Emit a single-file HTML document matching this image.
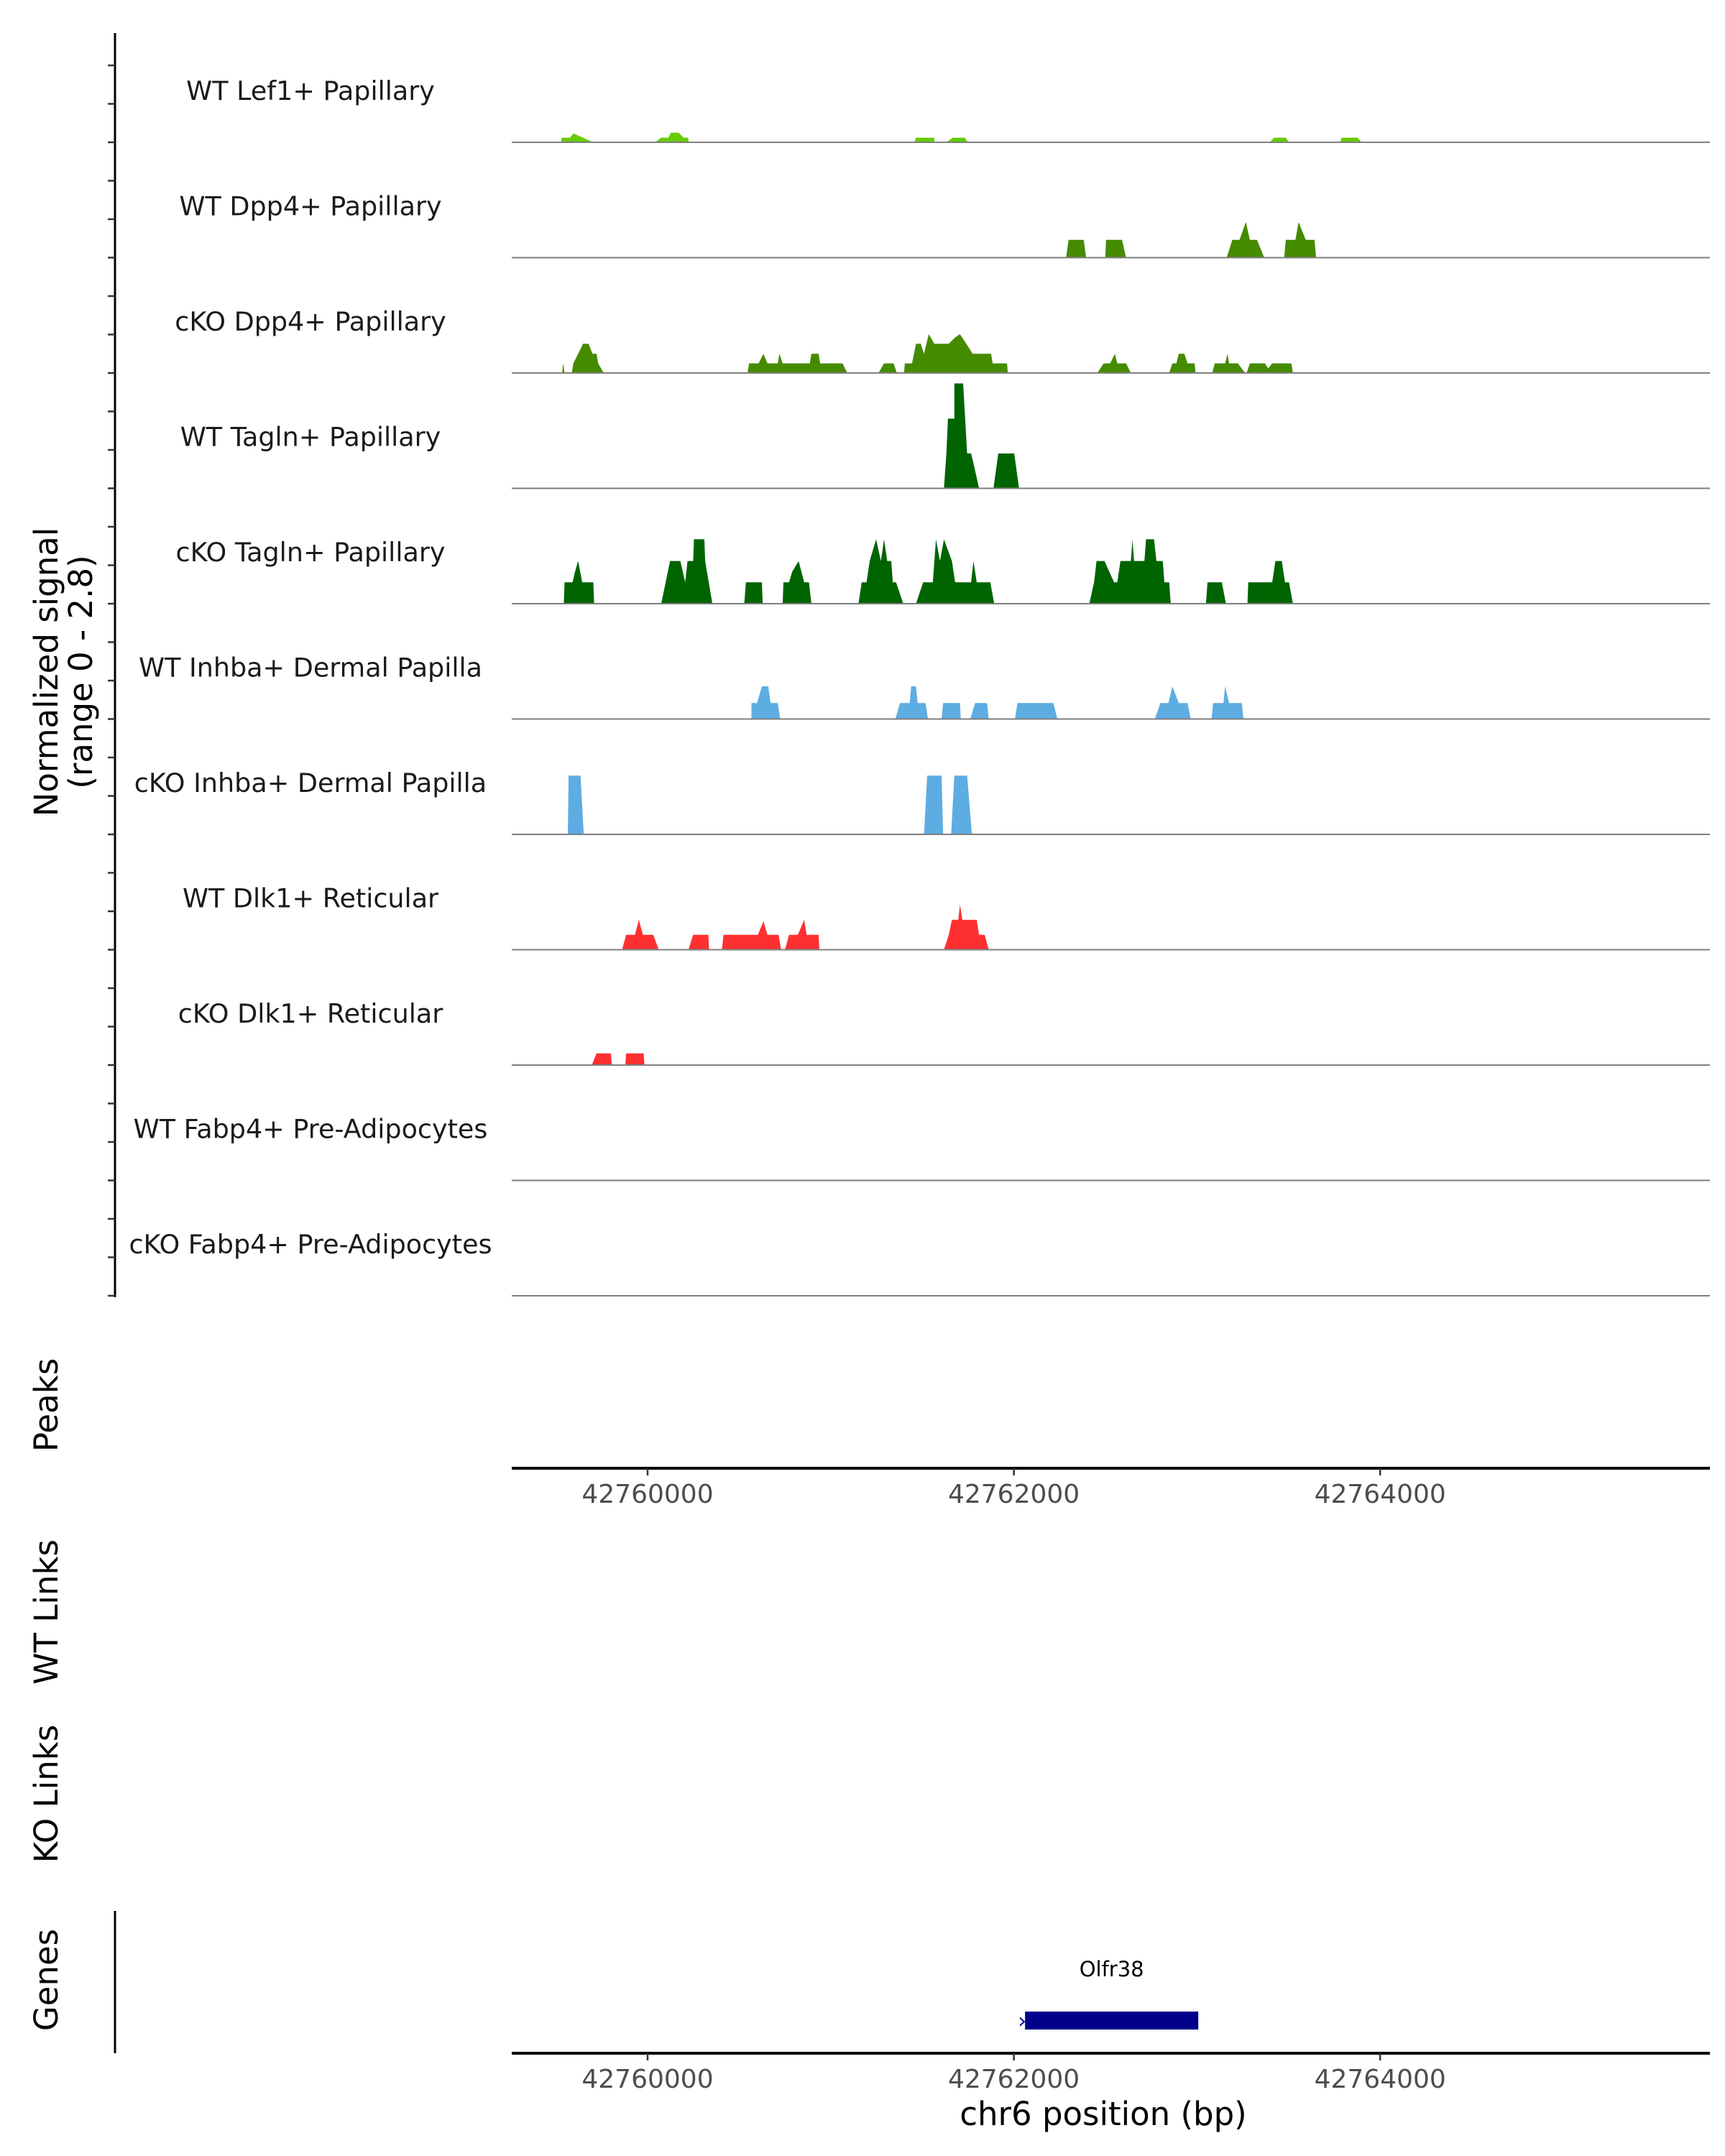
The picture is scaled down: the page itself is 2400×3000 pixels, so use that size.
<!DOCTYPE html>
<html><head><meta charset="utf-8"><style>
html,body{margin:0;padding:0;background:#fff;}
svg{display:block;font-family:"DejaVu Sans","Liberation Sans",sans-serif;}
</style></head><body>
<svg id="chart" width="2400" height="3000" viewBox="0 0 2400 3000" xmlns="http://www.w3.org/2000/svg">
<rect width="2400" height="3000" fill="#fff"/>
<g id="tracks"></g>
<g id="yaxis"></g>
<text transform="translate(80,935) rotate(-90)" text-anchor="middle" font-size="45" fill="#000">Normalized signal</text>
<text transform="translate(128,935) rotate(-90)" text-anchor="middle" font-size="45" fill="#000">(range 0 - 2.8)</text>
<text transform="translate(80,1955) rotate(-90)" text-anchor="middle" font-size="45">Peaks</text>
<text transform="translate(80,2243) rotate(-90)" text-anchor="middle" font-size="45">WT Links</text>
<text transform="translate(80,2496) rotate(-90)" text-anchor="middle" font-size="45">KO Links</text>
<text transform="translate(80,2755) rotate(-90)" text-anchor="middle" font-size="45">Genes</text>
<line x1="160" y1="2659" x2="160" y2="2857" stroke="#000" stroke-width="3"/>
<g id="xaxes"></g>
<g id="genes"></g>
<text x="1535" y="2957" text-anchor="middle" font-size="45">chr6 position (bp)</text>
</svg>
<script>
const trackNames = ["WT Lef1+ Papillary","WT Dpp4+ Papillary","cKO Dpp4+ Papillary","WT Tagln+ Papillary","cKO Tagln+ Papillary","WT Inhba+ Dermal Papilla","cKO Inhba+ Dermal Papilla","WT Dlk1+ Reticular","cKO Dlk1+ Reticular","WT Fabp4+ Pre-Adipocytes","cKO Fabp4+ Pre-Adipocytes"];
const trackColors = ["#66cc00","#458b00","#458b00","#006400","#006400","#5dade2","#5dade2","#ff3030","#ff3030","#8b4513","#8b4513"];
const xTicks = [42760000,42762000,42764000];
const geneName = "Olfr38";
const geneStart = 42762061;
const geneEnd = 42763007;
// peaks: points given as [zoomUnits, signal]; position bp = 42759211 + 4.361*u
const t0 = [[[73,0],[73,.13],[84,.13],[88,.25],[113,0]],[[190,0],[198,.13],[207,.13],[210,.27],[220,.27],[226,.13],[232,.13],[232,0]],[[515,0],[517,.13],[540,.13],[540,0]],[[555,0],[563,.13],[578,.13],[582,0]],[[960,0],[965,.13],[980,.13],[984,0]],[[1048,0],[1050,.13],[1070,.13],[1075,0]]];
const t1 = [[[705,0],[708,.5],[727,.5],[730,0]],[[754,0],[755,.5],[775,.5],[780,0]],[[906,0],[913,.5],[922,.5],[930,1.0],[935,.5],[944,.5],[953,0]],[[978,0],[980,.5],[992,.5],[996,1.0],[1005,.5],[1016,.5],[1018,0]]];
const t2 = [[[74,0],[75,.27],[77,0]],[[86,0],[88,.27],[94,.54],[100,.82],[107,.82],[112,.54],[117,.54],[119,.27],[126,0]],[[306,0],[308,.27],[320,.27],[326,.54],[331,.27],[344,.27],[346,.54],[350,.27],[384,.27],[386,.54],[395,.54],[397,.27],[425,.27],[431,0]],[[470,0],[477,.27],[489,.27],[493,0]],[[502,0],[503,.27],[512,.27],[517,.82],[523,.82],[527,.54],[533,1.09],[540,.82],[558,.82],[566,1.0],[572,1.09],[580,.82],[588,.54],[593,.54],[611,.54],[613,.27],[631,.27],[632,0]],[[744,0],[752,.27],[760,.27],[766,.54],[769,.27],[780,.27],[786,0]],[[834,0],[838,.27],[843,.27],[846,.54],[853,.54],[857,.27],[866,.27],[867,0]],[[888,0],[891,.27],[904,.27],[907,.54],[909,.27],[920,.27],[929,0]],[[931,0],[935,.27],[954,.27],[958,.13],[963,.27],[987,.27],[989,0]]];
const t3 = [[[552,0],[555,.98],[557,1.96],[565,1.96],[565,2.95],[576,2.95],[581,.98],[586,.98],[588,.8],[596,0]],[[614,0],[620,.98],[640,.98],[646,0]]];
const t4 = [[[76,0],[77,.6],[87,.6],[90,.9],[94,1.2],[99,.6],[113,.6],[114,0]],[[198,0],[209,1.2],[222,1.2],[228,.6],[231,1.2],[238,1.2],[239,1.81],[252,1.81],[253,1.2],[262,0]],[[302,0],[304,.6],[324,.6],[325,0]],[[350,0],[351,.6],[358,.6],[362,.9],[370,1.2],[377,.6],[383,.6],[386,0]],[[445,0],[449,.6],[455,.6],[459,1.2],[467,1.81],[473,1.2],[477,1.81],[481,1.2],[486,1.2],[488,.6],[492,.6],[501,0]],[[517,0],[526,.6],[538,.6],[540,1.2],[542,1.81],[547,1.2],[552,1.81],[562,1.2],[566,.6],[586,.6],[589,1.2],[593,.6],[610,.6],[615,0]],[[734,0],[740,.6],[743,1.2],[753,1.2],[765,.6],[769,.6],[773,1.2],[786,1.2],[788,1.81],[790,1.2],[803,1.2],[805,1.81],[815,1.81],[818,1.2],[826,1.2],[828,.6],[834,.6],[836,0]],[[880,0],[882,.6],[900,.6],[905,0]],[[932,0],[933,.6],[963,.6],[967,1.2],[975,1.2],[979,.6],[984,.6],[989,0]]];
const t5 = [[[311,0],[311,.45],[318,.45],[324,.92],[332,.92],[335,.45],[344,.45],[347,0]],[[491,0],[497,.45],[509,.45],[511,.92],[517,.92],[519,.45],[529,.45],[532,0]],[[549,0],[551,.45],[572,.45],[573,0]],[[585,0],[591,.45],[606,.45],[608,0]],[[641,0],[644,.45],[689,.45],[694,0]],[[816,0],[823,.45],[833,.45],[838,.92],[846,.45],[857,.45],[861,0]],[[887,0],[889,.45],[902,.45],[904,.92],[909,.45],[925,.45],[927,0]]];
const t6 = [[[81,0],[82,1.65],[97,1.65],[101,0]],[[527,0],[531,1.65],[549,1.65],[551,0]],[[561,0],[565,1.65],[581,1.65],[587,0]]];
const t7 = [[[149,0],[154,.42],[165,.42],[170,.84],[175,.42],[188,.42],[195,0]],[[232,0],[238,.42],[257,.42],[258,0]],[[274,0],[276,.42],[319,.42],[326,.8],[331,.42],[345,.42],[348,0]],[[353,0],[358,.42],[369,.42],[377,.84],[380,.42],[395,.42],[396,0]],[[552,0],[558,.42],[562,.84],[570,.84],[572,1.27],[575,.84],[593,.84],[596,.42],[603,.42],[608,0]]];
const t8 = [[[111,0],[117,.33],[135,.33],[136,0]],[[153,0],[154,.33],[176,.33],[177,0]]];
const t9 = [];
const t10 = [];
const trackData = [t0,t1,t2,t3,t4,t5,t6,t7,t8,t9,t10];

const NS = "http://www.w3.org/2000/svg";
const X0 = 712, X1 = 2379;
function toBp(u){ return 42759211 + 4.361*u; }
function xs(bp){ return 901 + (bp - 42760000)*0.2548; }
function baseY(i){ return 198 + i*160.5; }
function ys(v, i){ return baseY(i) - v*49.5; }
function mk(tag, attrs, parent){ const e=document.createElementNS(NS,tag); for(const k in attrs) e.setAttribute(k,attrs[k]); parent.appendChild(e); return e; }

const tg = document.getElementById('tracks');
trackNames.forEach((name,i)=>{
  const g = mk('g',{},tg);
  
  
  const lab = mk('text',{x:432,y:baseY(i)-59,'text-anchor':'middle','font-size':36.5,fill:'#1a1a1a'},g);
  lab.textContent = name;
  
  
  trackData[i].forEach(pk=>{
    let d = '';
    pk.forEach((p,j)=>{ d += (j?'L':'M') + xs(toBp(p[0])).toFixed(1) + ',' + ys(p[1],i).toFixed(1); });
    d += 'Z';
    const a = mk('path',{d:d,fill:trackColors[i]},g);
    
    
  });
  const bl = mk('line',{x1:X0,x2:X1,y1:baseY(i),y2:baseY(i),stroke:'#7f7f7f','stroke-width':2},g);
  
  
});

const ya = document.getElementById('yaxis');
const yl = mk('line',{x1:160,x2:160,y1:46,y2:1805,stroke:'#000','stroke-width':3},ya);


for(let k=0;k<33;k++){
  const y = 91 + k*53.5;
  const t = mk('line',{x1:150,x2:160,y1:y,y2:y,stroke:'#333','stroke-width':2.5},ya);
  
  
}

const xa = document.getElementById('xaxes');
[2043,2857].forEach((ay,ai)=>{
  const l = mk('line',{x1:X0,x2:X1,y1:ay,y2:ay,stroke:'#000','stroke-width':4},xa);
  
  
  xTicks.forEach(tv=>{
    const x = xs(tv);
    const tk = mk('line',{x1:x,x2:x,y1:ay,y2:ay+10,stroke:'#333','stroke-width':2.5},xa);
    
    
    const tl = mk('text',{x:x,y:ay+48,'text-anchor':'middle','font-size':36,fill:'#4d4d4d'},xa);
    tl.textContent = String(tv);
    
    
  });
});

const gg = document.getElementById('genes');
const gx0 = xs(geneStart), gx1 = xs(geneEnd);
const gb = mk('rect',{x:gx0,y:2799,width:gx1-gx0,height:25,fill:'#00008b'},gg);


const ga = mk('text',{x:gx0-4,y:2822,'text-anchor':'middle','font-size':30,fill:'#00008b'},gg);
ga.textContent = '\u203A';


const gl = mk('text',{x:(gx0+gx1)/2,y:2750,'text-anchor':'middle','font-size':29,fill:'#000'},gg);
gl.textContent = geneName;


</script>
</body></html>
